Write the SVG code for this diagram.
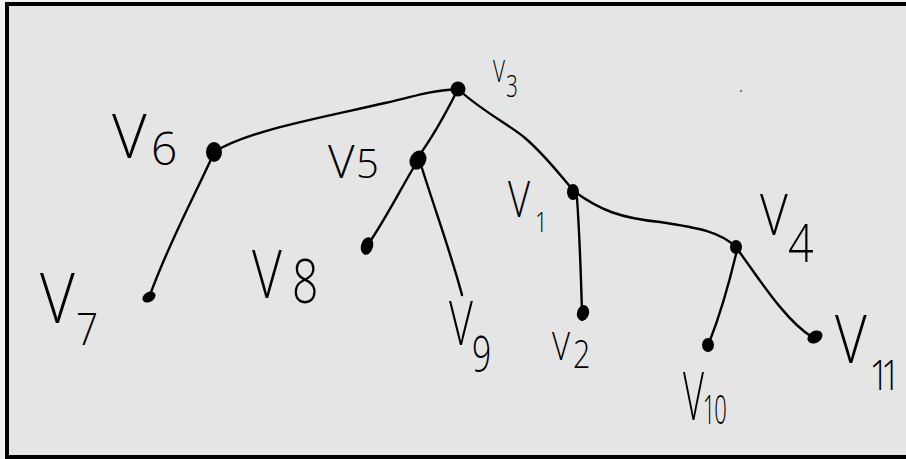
<svg xmlns="http://www.w3.org/2000/svg" width="906" height="459" viewBox="0 0 906 459">
<style>
.edge{fill:none;stroke:#000;stroke-width:2.4;stroke-linecap:round;stroke-linejoin:round}
.dot{fill:#000}
.lbl{font-family:"Open Sans","Liberation Sans",sans-serif;font-weight:300;fill:#000}
</style>
<rect x="0" y="0" width="906" height="459" fill="#f1f1f1"/>
<rect x="7" y="4" width="910" height="453" fill="#e5e5e5" stroke="#000" stroke-width="4"/>
<circle cx="741" cy="91" r="1" fill="#555"/>
<g id="connectors">
<path class="edge" d="M214,152 C250,130 320,118 385,103 C415,97 420,92 458,89"/>
<path class="edge" d="M458,89 C445,115 432,138 418,157"/>
<path class="edge" d="M458,89 C480,110 510,125 525,138 C545,155 560,175 573,190"/>
<path class="edge" d="M575,192 C600,210 620,218 660,222 C700,228 720,232 736,247"/>
<path class="edge" d="M577,198 C580,240 581,280 582,312"/>
<path class="edge" d="M418,160 C400,190 385,220 369,243"/>
<path class="edge" d="M421,165 C435,210 450,250 462,295"/>
<path class="edge" d="M213,155 C195,195 170,240 150,295"/>
<path class="edge" d="M737,250 C730,280 722,310 709,343"/>
<path class="edge" d="M738,250 C760,280 785,320 812,337"/>
</g>
<g id="v3"><ellipse class="dot" cx="458" cy="89" rx="7.5" ry="7.5"/>
<text class="lbl" transform="translate(493 0) scale(0.67 1)"><tspan x="0" y="82" font-size="31">V</tspan><tspan x="19.4" y="97" font-size="31">3</tspan></text></g>
<g id="v6"><ellipse class="dot" cx="214" cy="152" rx="8" ry="10"/>
<text class="lbl" transform="translate(112 0)"><tspan x="0" y="158" font-size="60">V</tspan><tspan x="39" y="165" font-size="46">6</tspan></text></g>
<g id="v5"><ellipse class="dot" cx="418" cy="160" rx="8" ry="10" transform="rotate(30 418 160)"/>
<text class="lbl" transform="translate(328 0)"><tspan x="0" y="178" font-size="46">V</tspan><tspan x="28" y="178" font-size="40">5</tspan></text></g>
<g id="v1"><ellipse class="dot" cx="573" cy="192" rx="6" ry="8"/>
<text class="lbl" transform="translate(508 0) scale(0.78 1)"><tspan x="0" y="217" font-size="49">V</tspan><tspan x="34.6" y="232" font-size="28">1</tspan></text></g>
<g id="v4"><ellipse class="dot" cx="736" cy="247" rx="6" ry="7"/>
<text class="lbl" transform="translate(760 0) scale(0.83 1)"><tspan x="0" y="235" font-size="58">V</tspan><tspan x="33.7" y="262" font-size="54">4</tspan></text></g>
<g id="v7"><ellipse class="dot" cx="149" cy="297" rx="7" ry="5" transform="rotate(-30 149 297)"/>
<text class="lbl" transform="translate(40 0) scale(0.86 1)"><tspan x="0" y="323" font-size="70">V</tspan><tspan x="41.9" y="345" font-size="45">7</tspan></text></g>
<g id="v8"><ellipse class="dot" cx="367" cy="246" rx="6" ry="9" transform="rotate(15 367 246)"/>
<text class="lbl" transform="translate(252 0) scale(0.77 1)"><tspan x="0" y="298" font-size="67">V</tspan><tspan x="51.9" y="303" font-size="60">8</tspan></text></g>
<g id="v9">
<text class="lbl" transform="translate(449 0) scale(0.69 1)"><tspan x="0" y="345" font-size="60">V</tspan><tspan x="33.3" y="372" font-size="49">9</tspan></text></g>
<g id="v2"><ellipse class="dot" cx="583" cy="313" rx="6" ry="8" transform="rotate(15 583 313)"/>
<text class="lbl" transform="translate(552 0) scale(0.8 1)"><tspan x="0" y="360" font-size="39">V</tspan><tspan x="26.3" y="368" font-size="38">2</tspan></text></g>
<g id="v10"><ellipse class="dot" cx="708" cy="345" rx="6" ry="7"/>
<text class="lbl" transform="translate(683 0) scale(0.55 1)"><tspan x="0" y="420" font-size="66">V</tspan><tspan x="36" y="424" font-size="40" letter-spacing="-2">10</tspan></text></g>
<g id="v11"><ellipse class="dot" cx="815" cy="337" rx="8" ry="6" transform="rotate(-30 815 337)"/>
<text class="lbl" transform="translate(835 0) scale(0.82 1)"><tspan x="0" y="363" font-size="67">V</tspan><tspan x="42" y="390" font-size="42" letter-spacing="-10">11</tspan></text></g>
</svg>
